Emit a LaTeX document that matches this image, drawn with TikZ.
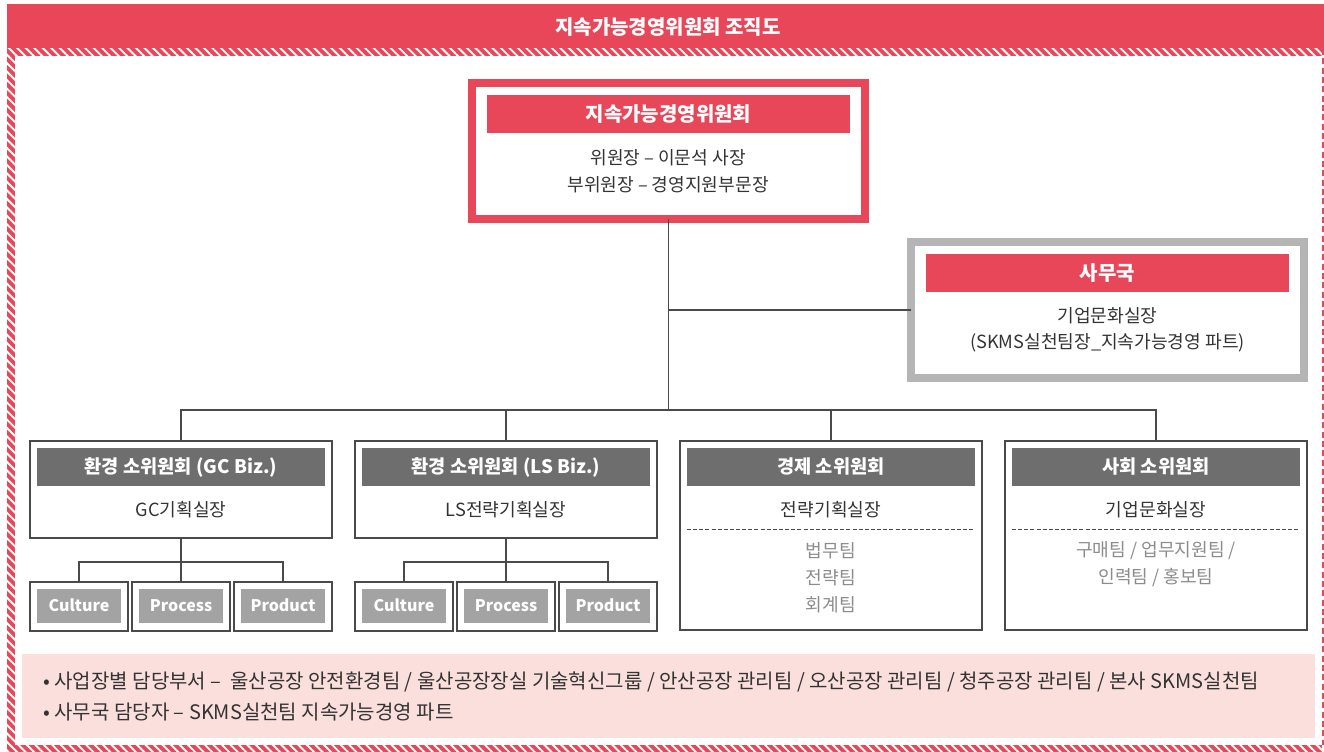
\documentclass[tikz,border=0pt]{standalone}
\usepackage{fontspec}
\setmainfont{Noto Sans CJK KR}
\usetikzlibrary{patterns.meta}

\definecolor{skred}{HTML}{E8475A}
\definecolor{skpink}{HTML}{FADFDC}
\definecolor{darkbar}{HTML}{6E6E6E}
\definecolor{lightbar}{HTML}{A3A3A3}
\definecolor{greyframe}{HTML}{B5B5B5}
\definecolor{boxline}{HTML}{4A4A4A}
\definecolor{txt}{HTML}{333333}
\definecolor{teamtxt}{HTML}{8C8C8C}

\begin{document}
\begin{tikzpicture}[x=0.75pt,y=-0.75pt,
    lbl/.style={inner sep=0,text=txt,font=\fontsize{13.6}{15}\selectfont},
    team/.style={lbl,text=teamtxt},
    bigbar/.style={fill=skred,text=white,inner sep=0,minimum width=272.25pt,minimum height=28.5pt,font=\fontsize{15}{17}\selectfont\bfseries},
    midbar/.style={bigbar,fill=darkbar,minimum width=216pt,font=\fontsize{14}{16}\selectfont\bfseries},
    smallbar/.style={bigbar,fill=lightbar,minimum width=63pt,minimum height=25.5pt,text height=8.6pt,text depth=0pt,font=\fontsize{12}{14}\selectfont\bfseries},
    topbox/.style={line width=6pt,inner sep=0,outer sep=0,anchor=north west,minimum width=294.75pt,minimum height=102pt},
    unitbox/.style={draw=boxline,line width=0.9pt,inner sep=0,outer sep=0,anchor=north,minimum width=226.5pt,minimum height=72.75pt},
    subbox/.style={unitbox,minimum width=73.5pt,minimum height=36.75pt},
    link/.style={draw=boxline,line width=0.9pt},
    stripe/.style={pattern={Lines[angle=-45,distance=4.5pt,line width=1.4pt]},pattern color=white}]

  \useasboundingbox (0,0) rectangle (1324,752);

  % frame
  \fill[skred] (7,4) rectangle (1324,49);
  \node[inner sep=0,text=white,font=\fontsize{15}{17}\selectfont\bfseries] (title) at (668,27) {지속가능경영위원회 조직도};
  \fill[skred] (7,49) rectangle (1322,56);
  \fill[skred] (7,49) rectangle (15,752);
  \fill[skred] (7,745) rectangle (1322,752);
  \fill[stripe] (7,49) rectangle (1322,56);
  \fill[stripe] (7,56) rectangle (15,752);
  \fill[stripe] (15,745) rectangle (1322,752);
  \draw[skred,line width=1.2pt,dash pattern=on 4.5pt off 2.5pt] (1323,49) -- (1323,745);

  % committee
  \node[topbox,draw=skred] (comm) at (472,83) {};
  \node[bigbar] (commbar) at (668.5,114) {지속가능경영위원회};
  \node[lbl] (chair) at (668,158) {위원장 – 이문석 사장};
  \node[lbl] (vice) at (668,185) {부위원장 – 경영지원부문장};

  % secretariat
  \node[topbox,draw=greyframe] (office) at (911,242) {};
  \node[bigbar] (officebar) at (1107.5,273) {사무국};
  \node[lbl] (officehead) at (1107.5,316) {기업문화실장};
  \node[lbl] (officepart) at (1107.5,343) {(SKMS실천팀장\_지속가능경영 파트)};

  % subcommittees
  \node[unitbox] (gc) at (181,441) {};
  \node[midbar] (gcbar) at (181,467) {환경 소위원회 (GC Biz.)};
  \node[lbl] (gchead) at (181,510) {GC기획실장};

  \node[unitbox] (ls) at (506,441) {};
  \node[midbar] (lsbar) at (506,467) {환경 소위원회 (LS Biz.)};
  \node[lbl] (lshead) at (506,510) {LS전략기획실장};

  \node[unitbox,minimum height=141.75pt] (eco) at (831,441) {};
  \node[midbar] (ecobar) at (831,467) {경제 소위원회};
  \node[lbl] (ecohead) at (831,510) {전략기획실장};
  \draw[boxline,line width=0.75pt,dash pattern=on 3pt off 1.6pt] (687,529) -- (975,529);
  \node[team] (eco1) at (831,551) {법무팀};
  \node[team] (eco2) at (831,578) {전략팀};
  \node[team] (eco3) at (831,605) {회계팀};

  \node[unitbox,minimum height=141.75pt] (soc) at (1156,441) {};
  \node[midbar] (socbar) at (1156,467) {사회 소위원회};
  \node[lbl] (sochead) at (1156,510) {기업문화실장};
  \draw[boxline,line width=0.75pt,dash pattern=on 3pt off 1.6pt] (1012,529) -- (1300,529);
  \node[team] (soc1) at (1156,551) {구매팀 / 업무지원팀 /};
  \node[team] (soc2) at (1156,578) {인력팀 / 홍보팀};

  % GC / LS parts
  \node[subbox] (gcC) at (79,582) {};
  \node[smallbar] (gcCbar) at (79,606) {Culture};
  \node[subbox] (gcP) at (181,582) {};
  \node[smallbar] (gcPbar) at (181,606) {Process};
  \node[subbox] (gcD) at (283,582) {};
  \node[smallbar] (gcDbar) at (283,606) {Product};

  \node[subbox] (lsC) at (404,582) {};
  \node[smallbar] (lsCbar) at (404,606) {Culture};
  \node[subbox] (lsP) at (506,582) {};
  \node[smallbar] (lsPbar) at (506,606) {Process};
  \node[subbox] (lsD) at (608,582) {};
  \node[smallbar] (lsDbar) at (608,606) {Product};

  % connectors
  \coordinate (hub) at (668.5,310);
  \coordinate (bus) at (668.5,410);
  \coordinate (gcbus) at (181,562);
  \coordinate (lsbus) at (506,562);

  \draw[link] (comm.south) -- (bus);
  \draw[link] (hub) -- (office.west);
  \draw[link] (gc.north) |- (bus) -| (soc.north);
  \draw[link] (ls.north) -- (ls.north |- bus);
  \draw[link] (eco.north) -- (eco.north |- bus);

  \draw[link] (gc.south) -- (gcbus);
  \draw[link] (gcC.north) |- (gcbus) -| (gcD.north);
  \draw[link] (gcP.north) -- (gcbus);
  \draw[link] (ls.south) -- (lsbus);
  \draw[link] (lsC.north) |- (lsbus) -| (lsD.north);
  \draw[link] (lsP.north) -- (lsbus);

  % note
  \node[fill=skpink,inner sep=0,anchor=north west,minimum width=969.75pt,minimum height=63pt] (note) at (22,654) {};
  \node[lbl,anchor=west,font=\fontsize{15}{17}\selectfont] (note1) at (43,682) {• 사업장별 담당부서 –\ \ 울산공장 안전환경팀 / 울산공장장실 기술혁신그룹 / 안산공장 관리팀 / 오산공장 관리팀 / 청주공장 관리팀 / 본사 SKMS실천팀};
  \node[lbl,anchor=west,font=\fontsize{15}{17}\selectfont] (note2) at (43,712) {• 사무국 담당자 – SKMS실천팀 지속가능경영 파트};

\end{tikzpicture}
\end{document}
